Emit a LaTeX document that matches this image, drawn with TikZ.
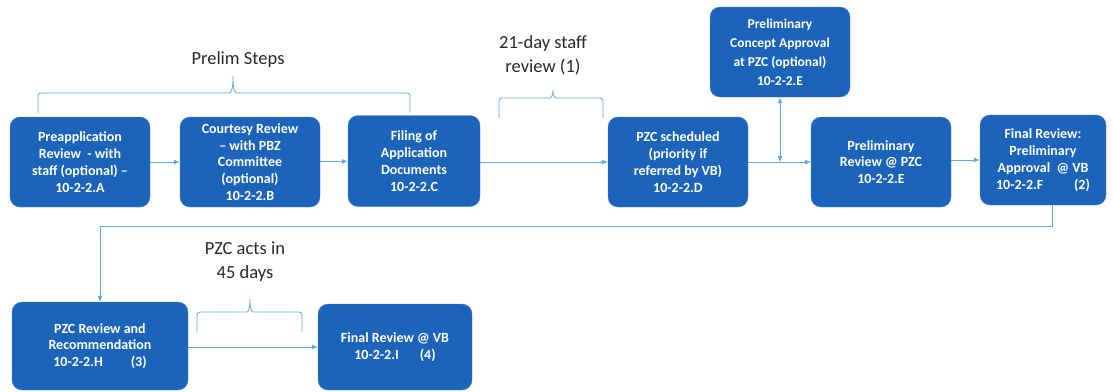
\documentclass[tikz,border=0pt]{standalone}
\usepackage{fontspec}
\setmainfont{Carlito}
\usetikzlibrary{arrows.meta}
\definecolor{boxblue}{RGB}{28,100,186}
\definecolor{lineblue}{RGB}{95,168,225}
\definecolor{txtgray}{RGB}{40,40,40}
\tikzset{
  stepbox/.style={draw=boxblue!80!white, fill=boxblue, rounded corners=10pt, text=white,
    font=\bfseries\fontsize{14}{16.8}\selectfont, align=center, inner sep=2pt},
  conn/.style={draw=lineblue, line width=0.8pt, -{Latex[length=6pt,width=5pt]}},
  dconn/.style={draw=lineblue, line width=0.8pt, {Latex[length=6pt,width=5pt]}-{Latex[length=6pt,width=5pt]}},
  bracket/.style={draw=lineblue, line width=0.8pt, rounded corners=3pt},
  lbl/.style={text=txtgray, font=\fontsize{18.5}{24}\selectfont, align=center}
}
\begin{document}
\begin{tikzpicture}[x=1pt,y=-1pt]
\useasboundingbox (0,0) rectangle (1113,391);
% boxes
\node[stepbox, minimum width=140pt, minimum height=90pt] (A) at (80,162) {Preapplication\\Review \ - with\\staff (optional) --\\10-2-2.A};
\node[stepbox, minimum width=140pt, minimum height=90pt] (B) at (250,162) {Courtesy Review\\-- with PBZ\\Committee\\(optional)\\10-2-2.B};
\node[stepbox, minimum width=132pt, minimum height=91pt] (C) at (414,161) {Filing of\\Application\\Documents\\10-2-2.C};
\node[stepbox, minimum width=140pt, minimum height=90pt] (D) at (678,162) {PZC scheduled\\(priority if\\referred by VB)\\10-2-2.D};
\node[stepbox, minimum width=140pt, minimum height=90pt, font=\bfseries\fontsize{13.5}{19}\selectfont] (E) at (780,52) {Preliminary\\Concept Approval\\at PZC (optional)\\10-2-2.E};
\node[stepbox, minimum width=140pt, minimum height=90pt] (PR) at (881,162) {Preliminary\\Review @ PZC\\10-2-2.E};
\node[stepbox, minimum width=126pt, minimum height=90pt] (F) at (1043,160) {Final Review:\\Preliminary\\Approval \ @ VB\\10-2-2.F\hspace{2.2em}(2)};
\node[stepbox, minimum width=176pt, minimum height=88pt] (H) at (100,346) {PZC Review and\\Recommendation\\10-2-2.H\hspace{2em}(3)};
\node[stepbox, minimum width=154pt, minimum height=86pt] (I) at (395,347) {Final Review @ VB\\10-2-2.I\hspace{1.5em}(4)};
% connectors
\draw[conn] (A) -- (B);
\draw[conn] (B) -- (C);
\draw[conn] (C.east |- D.west) -- (D.west);
\draw[conn] (D) -- (PR);
\coordinate (j) at (E.south |- D.east);
\draw[dconn] (E.south) -- (j);
\draw[conn] (PR.east |- F.west) -- (F.west);
\coordinate (fb) at (1052,226);
\draw[conn] (F.south -| fb) -- (fb) -| (H.north);
\draw[conn] (H.east |- I.west) -- (I.west);
% brackets
\draw[bracket] (38,113) -- (38,93) -- (226,93) .. controls (231,93) and (233,90) .. (233,74) .. controls (233,90) and (235,93) .. (240,93) -- (410,93) -- (410,113);
\draw[bracket] (499,118) -- (499,98) -- (547,98) .. controls (551,98) and (553,95) .. (553,88) .. controls (553,95) and (555,98) .. (559,98) -- (603,98) -- (603,118);
\draw[bracket] (197,332) -- (197,312) -- (244,312) .. controls (248,312) and (250,309) .. (250,297) .. controls (250,309) and (252,312) .. (256,312) -- (302,312) -- (302,332);
% labels
\node[lbl] (ps) at (238,60) {Prelim Steps};
\node[lbl] (sr) at (543,55) {21-day staff\\review (1)};
\node[lbl] (pa) at (245,262) {PZC acts in\\45 days};
\end{tikzpicture}
\end{document}
